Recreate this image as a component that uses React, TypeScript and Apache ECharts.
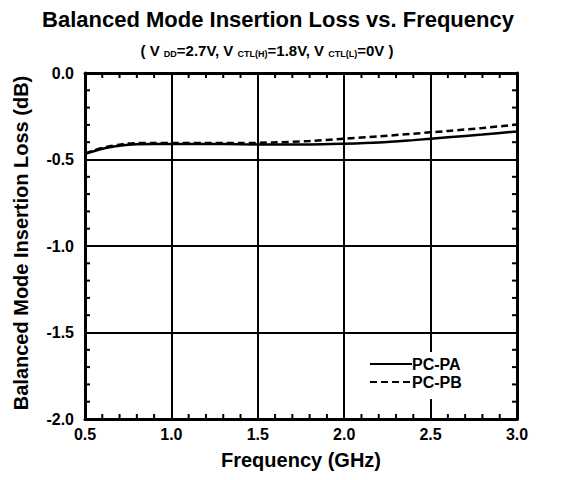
import React, { useEffect, useRef } from "react";
import * as echarts from "echarts";

const freq = [0.5, 0.55, 0.6, 0.65, 0.7, 0.75, 0.8, 0.9, 1.0, 1.2, 1.4, 1.6, 1.8, 2.0, 2.2, 2.4, 2.6, 2.8, 3.0];
const pcPA = [-0.468, -0.452, -0.438, -0.428, -0.42, -0.415, -0.412, -0.41, -0.41, -0.41, -0.412, -0.413, -0.413, -0.409, -0.402, -0.388, -0.372, -0.356, -0.338];
const pcPB = [-0.465, -0.448, -0.433, -0.422, -0.414, -0.408, -0.405, -0.404, -0.404, -0.404, -0.405, -0.401, -0.393, -0.38, -0.366, -0.351, -0.335, -0.318, -0.298];
const seriesNames = ["PC-PA", "PC-PB"];
// inner grid lines (major ticks)
const xGrid = [1.0, 1.5, 2.0, 2.5];
const yGrid = [-0.5, -1.0, -1.5];
// minor tick positions
const xMinor = [0.6, 0.7, 0.8, 0.9, 1.1, 1.2, 1.3, 1.4, 1.6, 1.7, 1.8, 1.9, 2.1, 2.2, 2.3, 2.4, 2.6, 2.7, 2.8, 2.9];
const yMinor = [-0.1, -0.2, -0.3, -0.4, -0.6, -0.7, -0.8, -0.9, -1.1, -1.2, -1.3, -1.4, -1.6, -1.7, -1.8, -1.9];
const X_MIN = 0.5;
const X_MAX = 3.0;
const Y_MIN = -2.0;
const Y_MAX = 0.0;

const FONT = "'Liberation Sans', Arial, sans-serif";
const TICK_LEN = 5;

export default function App() {
  const ref = useRef<HTMLDivElement>(null);
  useEffect(() => {
    if (!ref.current) return;
    const chart = echarts.init(ref.current, undefined, { renderer: "svg" });
    const mk = (ys: number[]) => freq.map((f, i) => [f, ys[i]]);
    const axisLine = { show: true, onZero: false, lineStyle: { color: "#000", width: 3 } };
    const label = { fontFamily: FONT, fontWeight: "bold" as const, fontSize: 16, color: "#000" };
    const nameStyle = { fontFamily: FONT, fontWeight: "bold" as const, fontSize: 20, color: "#000" };
    const tickStyle = { stroke: "#000", lineWidth: 2 };
    chart.setOption({
      animation: false,
      backgroundColor: "#fff",
      textStyle: { fontFamily: FONT },
      title: [
        {
          text: "Balanced Mode Insertion Loss vs. Frequency",
          left: 273,
          top: 3,
          textAlign: "center",
          textStyle: { fontFamily: FONT, fontWeight: "bold", fontSize: 22, color: "#000" },
        },
        {
          text: "( V {s|DD}=2.7V, V {s|CTL(H)}=1.8V, V {s|CTL(L)}=0V )",
          left: 262,
          top: 37,
          textAlign: "center",
          textStyle: {
            fontFamily: FONT,
            fontWeight: "bold",
            fontSize: 15,
            color: "#000",
            lineHeight: 16,
            verticalAlign: "top",
            rich: {
              s: {
                fontFamily: FONT,
                fontWeight: "bold",
                fontSize: 9,
                color: "#000",
                lineHeight: 9,
                padding: [13, 0, 0, 0],
                verticalAlign: "bottom",
              },
            },
          },
        },
      ],
      grid: { left: 85, right: 49, top: 73, bottom: 61, containLabel: false, outerBoundsMode: "none" },
      legend: {
        data: seriesNames,
        orient: "vertical",
        left: 361,
        top: 352,
        itemWidth: 42,
        itemHeight: 14,
        itemGap: 2,
        padding: [4, 6, 9, 8],
        backgroundColor: "#fff",
        textStyle: { fontFamily: FONT, fontWeight: "bold", fontSize: 16, color: "#000", padding: [0, 0, 0, -5] },
        itemStyle: { color: "rgba(0,0,0,0)", borderWidth: 0 },
        z: 10,
      },
      xAxis: [
        {
          type: "value",
          min: X_MIN,
          max: X_MAX,
          interval: 0.5,
          position: "bottom",
          name: "Frequency (GHz)",
          nameLocation: "middle",
          nameGap: 31,
          nameTextStyle: nameStyle,
          axisLine,
          axisTick: { show: false },
          axisLabel: { ...label, margin: 7, formatter: (v: number) => v.toFixed(1) },
          splitLine: { show: false },
        },
        {
          type: "value",
          min: X_MIN,
          max: X_MAX,
          interval: 0.5,
          position: "top",
          axisLine,
          axisTick: { show: false },
          axisLabel: { show: false },
          splitLine: { show: false },
        },
      ],
      yAxis: [
        {
          type: "value",
          min: Y_MIN,
          max: Y_MAX,
          interval: 0.5,
          position: "left",
          name: "Balanced Mode Insertion Loss (dB)",
          nameLocation: "middle",
          nameGap: 54,
          nameTextStyle: { ...nameStyle, padding: [0, 0, 0, 6] },
          axisLine,
          axisTick: { show: false },
          axisLabel: { ...label, margin: 11, formatter: (v: number) => v.toFixed(1) },
          splitLine: { show: false },
        },
        {
          type: "value",
          min: Y_MIN,
          max: Y_MAX,
          interval: 0.5,
          position: "right",
          axisLine,
          axisTick: { show: false },
          axisLabel: { show: false },
          splitLine: { show: false },
        },
      ],
      series: [
        {
          name: seriesNames[0],
          type: "line",
          xAxisIndex: 0,
          yAxisIndex: 0,
          data: mk(pcPA),
          symbol: "none",
          smooth: 0.3,
          lineStyle: { color: "#000", width: 2.5 },
          itemStyle: { color: "#000" },
          z: 3,
          markLine: {
            silent: true,
            symbol: ["none", "none"],
            animation: false,
            label: { show: false },
            lineStyle: { color: "#000", width: 2, type: "solid" },
            emphasis: { disabled: true },
            data: [...xGrid.map((x) => ({ xAxis: x })), ...yGrid.map((y) => ({ yAxis: y }))],
          },
        },
        {
          name: seriesNames[1],
          type: "line",
          xAxisIndex: 0,
          yAxisIndex: 0,
          data: mk(pcPB),
          symbol: "none",
          smooth: 0.3,
          lineStyle: { color: "#000", width: 2.5, type: [7, 4] },
          itemStyle: { color: "#000" },
          z: 3,
        },
        {
          type: "custom",
          name: "xticks",
          xAxisIndex: 0,
          yAxisIndex: 0,
          silent: true,
          z: 4,
          data: xMinor.map((x) => [x, Y_MAX]),
          renderItem: (_params: any, api: any) => {
            const x = api.value(0);
            const top = api.coord([x, Y_MAX]);
            const bot = api.coord([x, Y_MIN]);
            return {
              type: "group",
              children: [
                { type: "line", shape: { x1: top[0], y1: top[1], x2: top[0], y2: top[1] + TICK_LEN }, style: tickStyle },
                { type: "line", shape: { x1: bot[0], y1: bot[1], x2: bot[0], y2: bot[1] - TICK_LEN }, style: tickStyle },
              ],
            };
          },
        },
        {
          type: "custom",
          name: "yticks",
          xAxisIndex: 0,
          yAxisIndex: 0,
          silent: true,
          z: 4,
          data: yMinor.map((y) => [X_MIN, y]),
          renderItem: (_params: any, api: any) => {
            const y = api.value(1);
            const left = api.coord([X_MIN, y]);
            const right = api.coord([X_MAX, y]);
            return {
              type: "group",
              children: [
                { type: "line", shape: { x1: left[0], y1: left[1], x2: left[0] + TICK_LEN, y2: left[1] }, style: tickStyle },
                { type: "line", shape: { x1: right[0], y1: right[1], x2: right[0] - TICK_LEN, y2: right[1] }, style: tickStyle },
              ],
            };
          },
        },
      ],
    });
    return () => chart.dispose();
  }, []);
  return <div ref={ref} style={{ position: "absolute", left: 0, top: 0, width: 566, height: 480 }} />;
}
